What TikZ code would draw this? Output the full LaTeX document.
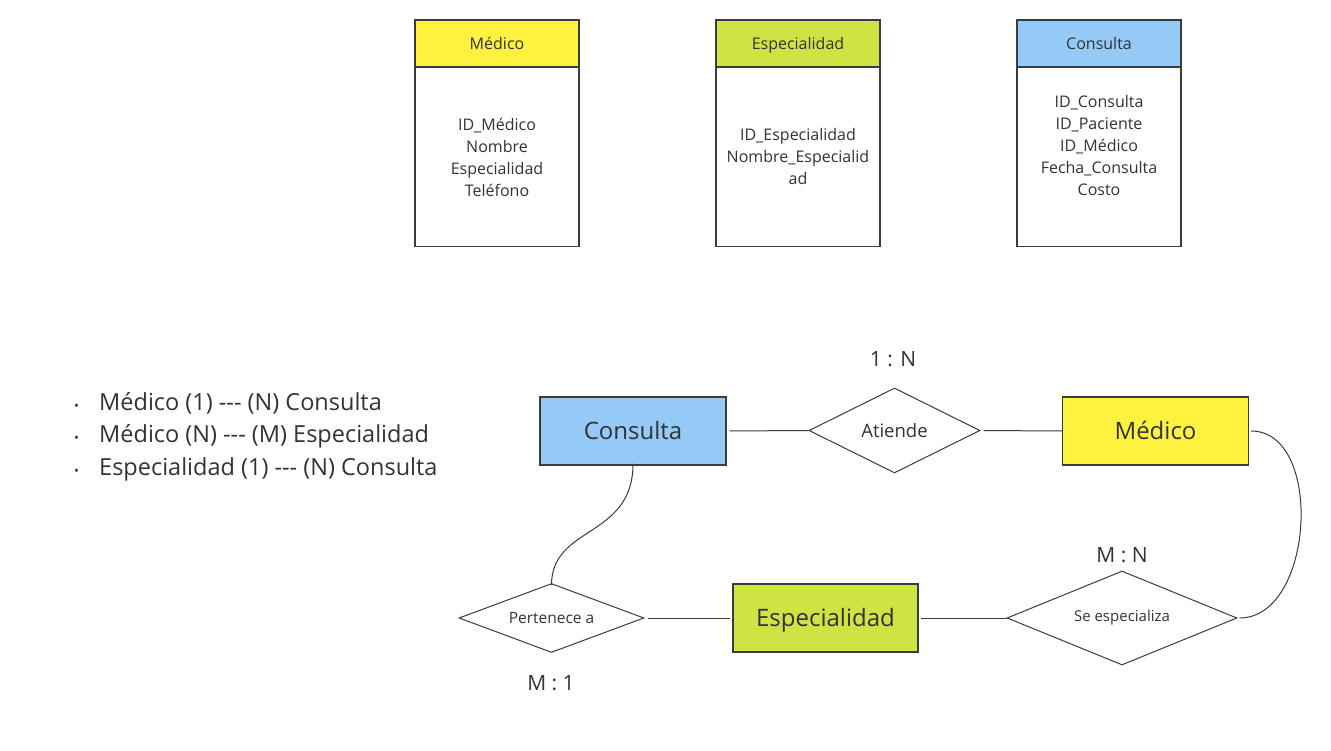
\documentclass[tikz,border=0pt]{standalone}
\usepackage{fontspec}
\setmainfont{Open Sans}[Ligatures=TeXOff]
\usetikzlibrary{shapes.geometric}
\definecolor{ymed}{HTML}{FFF23F}
\definecolor{lesp}{HTML}{CFE443}
\definecolor{bcon}{HTML}{94CAF5}
\definecolor{edge}{HTML}{3C3C3C}
\definecolor{txt}{HTML}{333333}
\begin{document}
\begin{tikzpicture}[x=1pt,y=-1pt,
 hdr/.style={draw=edge, line width=1.3pt, minimum width=164pt, minimum height=47pt, inner sep=0pt, text height=11.5pt, text depth=0pt, font=\fontsize{16}{18}\selectfont, text=txt},
 body/.style={draw=edge, line width=1.3pt, minimum width=164pt, minimum height=179pt, inner sep=0pt, fill=white},
 attr/.style={align=center, inner sep=0pt, font=\fontsize{16}{22}\selectfont, text=txt},
 ent/.style={draw=edge, line width=1.3pt, minimum width=186pt, minimum height=68pt, inner sep=0pt, text height=17pt, text depth=0pt, font=\fontsize{24}{28}\selectfont, text=txt},
 rel/.style={diamond, draw=edge, line width=1pt, inner sep=0pt, fill=white},
 rlab/.style={text=txt, inner sep=0pt},
 card/.style={font=\fontsize{21}{24}\selectfont, text=txt},
 conn/.style={draw=edge, line width=1pt},
 bul/.style={anchor=west, inner sep=0pt, font=\fontsize{23.5}{26}\selectfont, text=txt}
]
\useasboundingbox[fill=white] (0,0) rectangle (1331,751);

% top tables
\node[body, anchor=north] (b1) at (497,67) {};
\node[hdr, fill=ymed] (h1) at (497,43.5) {Médico};
\node[attr] (a1) at (497,157) {ID\_Médico\\Nombre\\Especialidad\\Teléfono};

\node[body, anchor=north] (b2) at (798,67) {};
\node[hdr, fill=lesp] (h2) at (798,43.5) {Especialidad};
\node[attr] (a2) at (798,157) {ID\_Especialidad\\Nombre\_Especialid\\ad};

\node[body, anchor=north] (b3) at (1099,67) {};
\node[hdr, fill=bcon] (h3) at (1099,43.5) {Consulta};
\node[attr] (a3) at (1099,146) {ID\_Consulta\\ID\_Paciente\\ID\_Médico\\Fecha\_Consulta\\Costo};

% bullets
\node[bul] (l1) at (74,403) {\makebox[25pt][l]{\fontsize{13}{13}\selectfont•}Médico (1) --- (N) Consulta};
\node[bul] (l2) at (74,436) {\makebox[25pt][l]{\fontsize{13}{13}\selectfont•}Médico (N) --- (M) Especialidad};
\node[bul] (l3) at (74,469) {\makebox[25pt][l]{\fontsize{13}{13}\selectfont•}Especialidad (1) --- (N) Consulta};

% ER diagram
\node[ent, fill=bcon] (con) at (633,431) {Consulta};
\node[ent, fill=ymed] (med) at (1155.5,431) {Médico};
\node[ent, fill=lesp, minimum width=185pt] (esp) at (825.5,618) {Especialidad};

\node[rel, minimum width=171pt, minimum height=85pt] (at) at (894.5,430.5) {};
\node[rlab, font=\fontsize{18.5}{20}\selectfont] (atl) at (at.center) {Atiende};
\node[rel, minimum width=185pt, minimum height=69pt] (pa) at (551.5,618) {};
\node[rlab, font=\fontsize{15.5}{17}\selectfont] (pal) at (pa.center) {Pertenece a};
\node[rel, minimum width=230pt, minimum height=94pt] (se) at (1122,618) {};
\node[rlab, font=\fontsize{15}{17}\selectfont] (sel) at (se.center) {Se especializa};

\node[card] (c1) at (893,359) {1 : N};
\node[card] (c2) at (1122,555) {M : N};
\node[card] (c3) at (551,683) {M : 1};

\draw[conn, shorten <=3pt] (con.east) -- (at.west);
\draw[conn, shorten <=3pt] (at.east) -- (med.west);
\draw[conn, shorten <=3pt, shorten >=2pt] (pa.east) -- (esp.west);
\draw[conn, shorten <=2pt] (esp.east) -- (se.west);
\draw[conn] ([xshift=2pt]med.east) .. controls +(73,0) and +(75,0) .. ([xshift=2pt]se.east);
\draw[conn] ([yshift=2pt]con.south) .. controls +(0,75) and +(0,-60) .. ([yshift=-2pt]pa.north);
\end{tikzpicture}
\end{document}
